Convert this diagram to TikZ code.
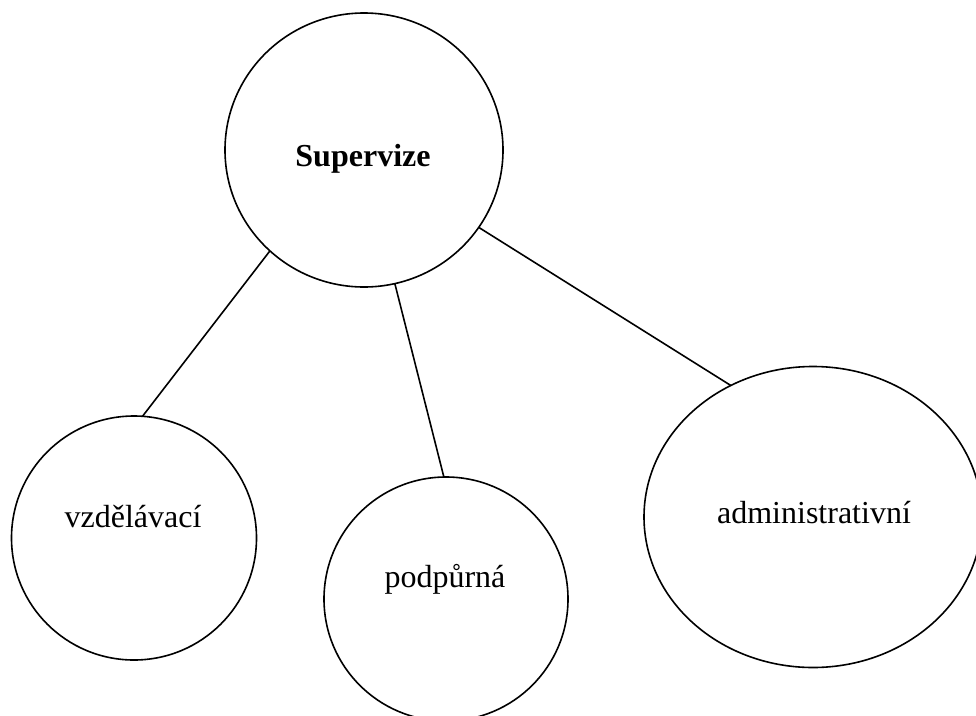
\documentclass[tikz,border=0pt]{standalone}
\usepackage{fontspec}
\setmainfont{Liberation Serif}
\usetikzlibrary{shapes.geometric}
\begin{document}
\begin{tikzpicture}[x=1pt,y=-1pt,
  bubble/.style={draw=black,line width=1.6pt,ellipse,inner sep=0pt,outer sep=0pt},
  lbl/.style={anchor=base,inner sep=0pt,font=\fontsize{32}{38}\selectfont},
  link/.style={draw=black,line width=1.6pt}]
\useasboundingbox (0,0) rectangle (976,715);
\clip (0,0) rectangle (976,715);
\node[bubble,minimum width=278pt,minimum height=274pt] (sup) at (364,150) {};
\node[bubble,minimum width=245pt,minimum height=244pt] (vz) at (134,538) {};
\node[bubble,minimum width=244pt,minimum height=244pt] (pod) at (446,599) {};
\node[bubble,minimum width=338pt,minimum height=301pt] (adm) at (813,517) {};
\node[lbl,font=\fontsize{32}{38}\selectfont\bfseries] (tsup) at (363,166) {Supervize};
\node[lbl] (tvz) at (133,527) {vzdělávací};
\node[lbl] (tpod) at (445,587) {podpůrná};
\node[lbl] (tadm) at (814,523) {administrativní};
\draw[link] (sup.227.3) -- (vz.86.2);
\draw[link] (sup.283.1) -- (pod.91.4);
\draw[link] (sup.326.4) -- (adm.122.8);
\end{tikzpicture}
\end{document}
